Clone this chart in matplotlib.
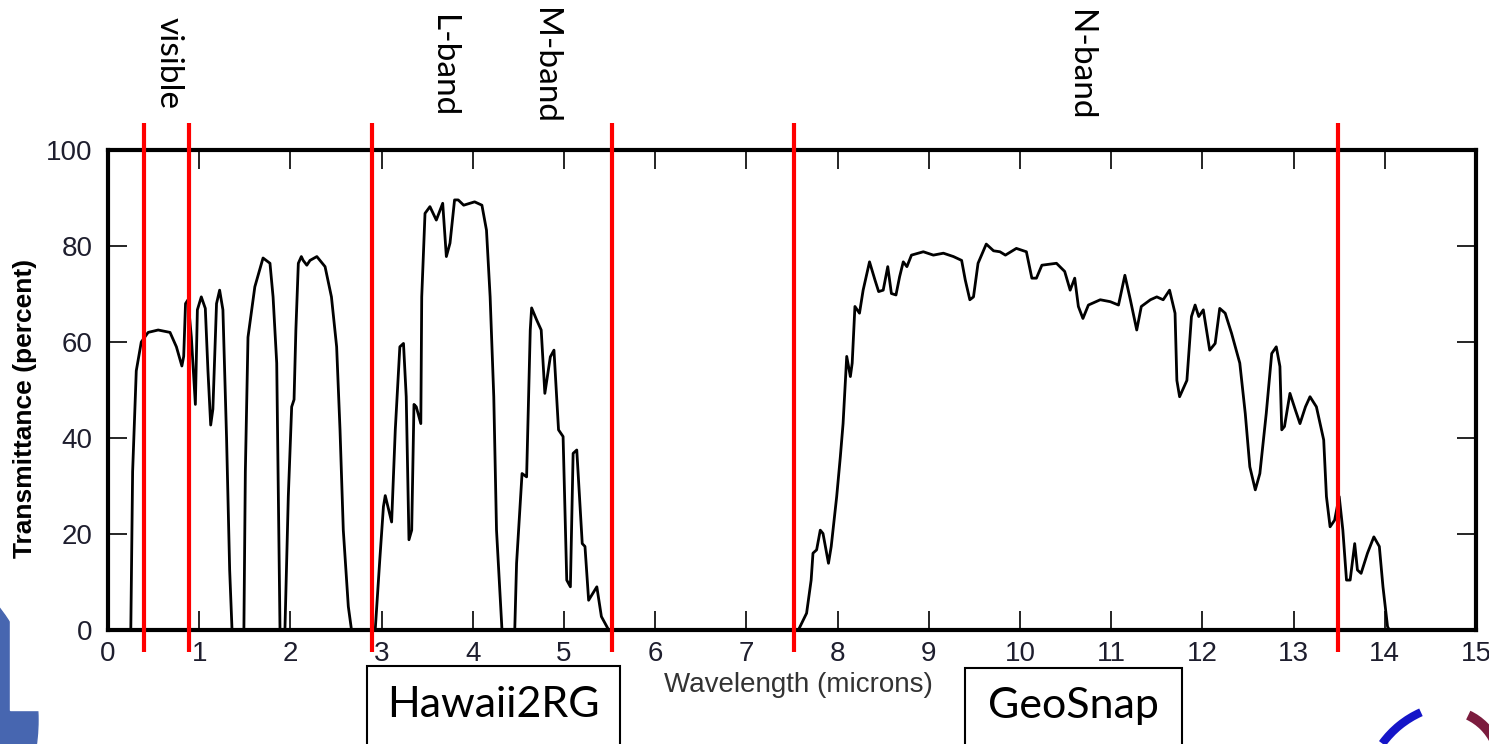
import matplotlib
matplotlib.use('Agg')
import matplotlib.pyplot as plt
from matplotlib.patches import Rectangle, Circle, Arc
from matplotlib.transforms import blended_transform_factory

plt.rcParams['font.family'] = ['Liberation Sans', 'DejaVu Sans']

# atmospheric transmittance
wavelength = [0.00, 0.25, 0.27, 0.31, 0.365, 0.44, 0.55, 0.68, 0.75, 0.81, 0.83, 0.85, 0.877,
              0.914, 0.958, 0.98, 1.023, 1.067, 1.096, 1.126, 1.15, 1.19, 1.224, 1.26, 1.30,
              1.334, 1.36, 1.49, 1.506, 1.535, 1.61, 1.70, 1.776, 1.81, 1.85, 1.868, 1.886,
              1.94, 1.977, 2.014, 2.04, 2.06, 2.087, 2.12, 2.14, 2.18, 2.215, 2.29, 2.38,
              2.45, 2.507, 2.544, 2.58, 2.635, 2.67, 2.93, 2.98, 3.02, 3.04, 3.11, 3.15,
              3.20, 3.24, 3.27, 3.30, 3.33, 3.355, 3.38, 3.43, 3.44, 3.476, 3.53, 3.60,
              3.67, 3.71, 3.75, 3.80, 3.84, 3.90, 4.02, 4.10, 4.15, 4.19, 4.23, 4.26,
              4.32, 4.46, 4.48, 4.54, 4.59, 4.63, 4.645, 4.70, 4.75, 4.79, 4.85, 4.89,
              4.94, 4.99, 5.03, 5.07, 5.10, 5.14, 5.20, 5.23, 5.27, 5.36, 5.41, 5.49,
              7.57, 7.66, 7.71, 7.73, 7.77, 7.81, 7.84, 7.90, 7.93, 7.99, 8.03, 8.06,
              8.10, 8.14, 8.16, 8.19, 8.24, 8.28, 8.35, 8.41, 8.45, 8.50, 8.55, 8.59,
              8.64, 8.68, 8.72, 8.76, 8.81, 8.94, 9.05, 9.16, 9.27, 9.36, 9.40, 9.45,
              9.49, 9.54, 9.63, 9.71, 9.78, 9.84, 9.96, 10.07, 10.13, 10.18, 10.24, 10.40,
              10.49, 10.55, 10.60, 10.64, 10.69, 10.75, 10.88, 10.99, 11.08, 11.15, 11.21,
              11.28, 11.33, 11.43, 11.50, 11.57, 11.64, 11.70, 11.72, 11.75, 11.83, 11.88,
              11.92, 11.96, 12.01, 12.08, 12.14, 12.19, 12.25, 12.32, 12.41, 12.47, 12.52,
              12.58, 12.63, 12.70, 12.76, 12.81, 12.85, 12.87, 12.90, 12.96, 13.02, 13.07,
              13.13, 13.18, 13.25, 13.33, 13.36, 13.40, 13.45, 13.50, 13.54, 13.58, 13.62,
              13.67, 13.70, 13.74, 13.81, 13.88, 13.94, 13.98, 14.03, 14.05, 15.0]
transmittance = [0, 0, 33, 54, 60, 62, 62.5, 62, 59, 55, 57, 68, 68.8,
                 61, 47, 66.7, 69.4, 67, 54, 42.7, 46, 68, 70.8, 66.7, 40,
                 12.5, 0, 0, 33, 61, 71.5, 77.5, 76.4, 69.4, 55.6, 27.8, 0,
                 0, 27.8, 46.5, 48, 62.5, 76.4, 77.8, 77, 76, 77, 77.8, 75.7,
                 69.4, 59, 41.7, 20.8, 4.9, 0, 0, 14.6, 25.7, 28, 22.5, 41.7,
                 59, 59.7, 48.6, 18.8, 20.8, 47, 46.5, 43, 69.4, 86.8, 88.2, 85.4,
                 88.9, 77.8, 80.6, 89.6, 89.6, 88.5, 89.2, 88.5, 83.3, 69.4, 48.6, 20.8,
                 0, 0, 13.9, 32.6, 31.9, 62.5, 67.1, 64.6, 62.5, 49.3, 56.9, 58.3,
                 41.7, 40.3, 10.4, 9, 36.8, 37.5, 18, 17.4, 6.2, 9, 2.8, 0,
                 0, 3.5, 10.4, 16, 16.7, 20.8, 20.1, 13.9, 17.4, 27.8, 36.1, 43,
                 57, 52.8, 55.6, 67.4, 66, 70.8, 76.7, 72.9, 70.5, 70.8, 75.7, 70.1,
                 69.8, 73.6, 76.7, 75.7, 78.1, 78.8, 78.1, 78.5, 77.8, 77, 72.9, 68.8,
                 69.4, 76.4, 80.4, 79.0, 78.8, 78.1, 79.5, 78.8, 73.3, 73.3, 76, 76.4,
                 74.7, 70.8, 73.3, 67.4, 64.9, 67.7, 68.8, 68.4, 67.7, 73.9, 68.8,
                 62.5, 67.4, 68.8, 69.4, 68.8, 70.8, 66, 52, 48.6, 52, 65.3,
                 67.7, 65.3, 66.7, 58.3, 59.7, 67, 66, 61.8, 55.6, 45.1, 34,
                 29.2, 32.6, 45.1, 57.6, 59, 54.9, 41.7, 42.4, 49.3, 45.8, 43,
                 46.5, 48.6, 46.5, 39.6, 27.8, 21.5, 22.9, 27.8, 20.8, 10.4, 10.4,
                 18, 12.5, 11.8, 16, 19.4, 17.4, 9, 0.7, 0, 0]

band_edges = [0.4, 0.89, 2.9, 5.53, 7.52, 13.49]
band_labels = ['visible', 'L-band', 'M-band', 'N-band']
band_label_x = [0.66, 3.67, 4.79, 10.66]
band_label_top = [17, 15, 8, 10]   # pixels from top

detectors = ['Hawaii2RG', 'GeoSnap']
detector_range = [(2.84, 5.61), (9.40, 11.78)]
detector_top = [666, 668]

W, H = 1489, 744
fig = plt.figure(figsize=(W / 100, H / 100), dpi=100)

# slide background with the logo pieces
bg = fig.add_axes([0, 0, 1, 1], zorder=0)
bg.set_xlim(0, W)
bg.set_ylim(H, 0)
bg.axis('off')
bg.add_patch(Circle((-144, 720), 182, color='#4766b0'))
bg.add_patch(Rectangle((10, 0), 300, 710, color='white'))
bg.add_patch(Arc((1460, 800), 192, 192, theta1=216, theta2=246, color='#1515c8', lw=6))
bg.add_patch(Arc((1445, 765), 110, 110, theta1=295, theta2=335, color='#7b1c3e', lw=7))

ax = fig.add_axes([108 / W, 1 - 630 / H, 1368 / W, 480 / H], zorder=1)
ax.plot(wavelength, transmittance, color='black', lw=2.0, zorder=3,
        solid_joinstyle='round', solid_capstyle='round')

ax.set_xlim(0, 15)
ax.set_ylim(0, 100)
ax.set_xticks(range(16))
ax.set_yticks(range(0, 101, 20))
ax.tick_params(direction='in', length=14, width=1.2, top=True, right=True,
               labelsize=20, labelcolor='#1e1e2e')
ax.tick_params(axis='x', pad=8)
ax.tick_params(axis='y', pad=11)
for s in ax.spines.values():
    s.set_linewidth(3)

ax.set_xlabel('Wavelength (microns)', fontsize=20, color='#333333')
ax.xaxis.set_label_coords(0.505, -0.088)
ax.set_ylabel('Transmittance (percent)', fontsize=19, fontweight='bold')
ax.yaxis.set_label_coords(-0.052, 0.4625)

for x in band_edges:
    ax.plot([x, x], [-4.6, 105.6], color='#ff0000', lw=3, clip_on=False,
            zorder=5, solid_capstyle='butt')

trans = blended_transform_factory(ax.transData, fig.transFigure)
for lab, x, top in zip(band_labels, band_label_x, band_label_top):
    ax.text(x, 1 - top / H, lab, rotation=-90, ha='center', va='top',
            fontsize=24, family='Lato', transform=trans)

for name, (x0, x1), top in zip(detectors, detector_range, detector_top):
    ax.add_patch(Rectangle((x0, -0.05), x1 - x0, 1 - top / H + 0.05, transform=trans,
                           fill=False, lw=1.5, ec='black', clip_on=False))
    ax.text((x0 + x1) / 2, (1 - top / H) / 2, name, ha='center', va='center',
            fontsize=31, family='Lato', transform=trans)

fig.savefig('out.png', dpi=100)
